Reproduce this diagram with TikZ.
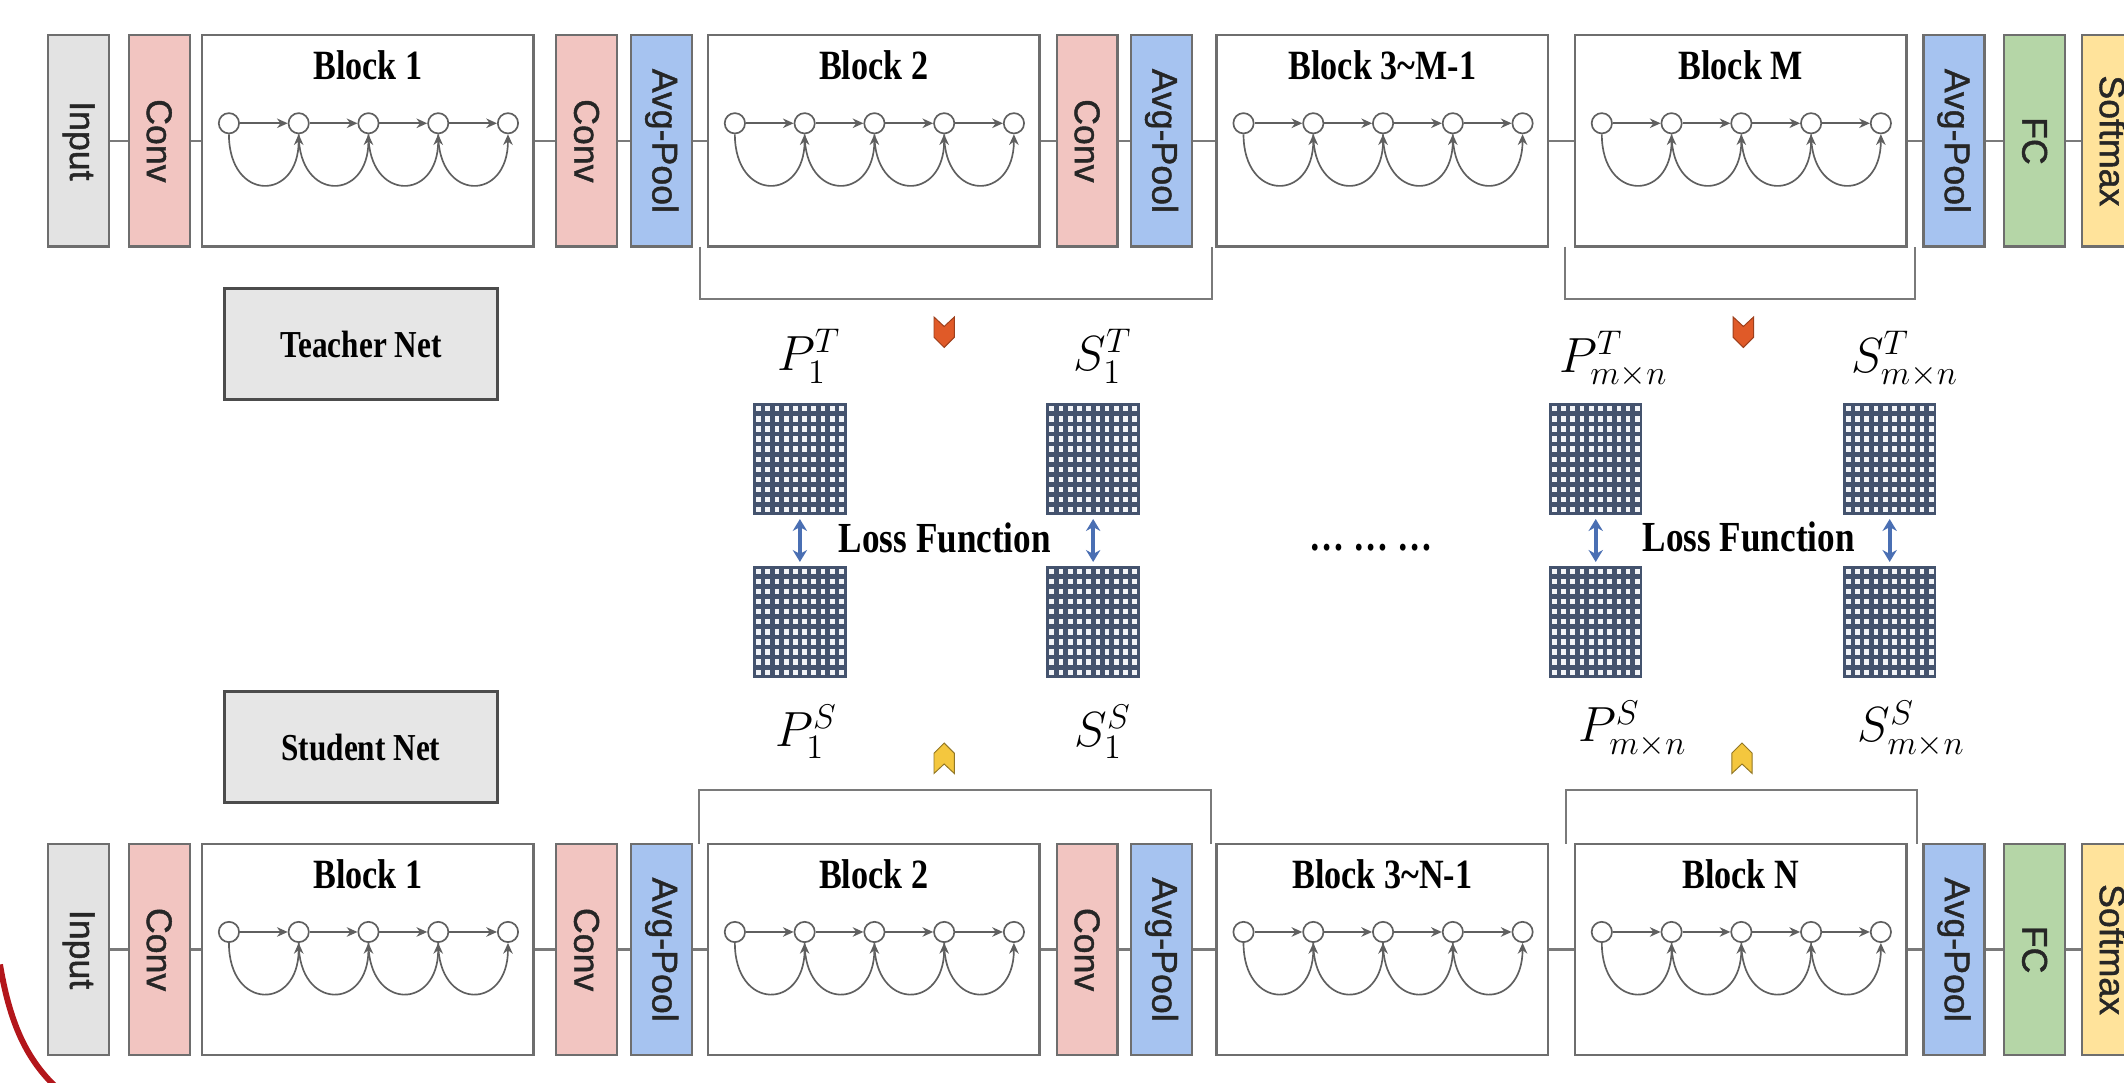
\documentclass[tikz,border=0pt]{standalone}
\usepackage[no-math]{fontspec}
\setmainfont{Liberation Serif}[FakeStretch=0.82]
\newfontfamily\layerfont{Liberation Sans}[FakeBold=1.2]
\usetikzlibrary{arrows.meta}

\definecolor{edgegray}{HTML}{6E6E6E}
\definecolor{wiregray}{HTML}{7A7A7A}
\definecolor{chaingray}{HTML}{5F5F5F}
\definecolor{inputgray}{HTML}{E3E3E3}
\definecolor{convpink}{HTML}{F2C5C1}
\definecolor{poolblue}{HTML}{A6C3F0}
\definecolor{fcgreen}{HTML}{B5D6A7}
\definecolor{softyellow}{HTML}{FFE39B}
\definecolor{gridblue}{HTML}{44536E}
\definecolor{cellwhite}{HTML}{F2F4F8}
\definecolor{lossblue}{HTML}{4A6FB3}
\definecolor{markorange}{HTML}{E05A28}
\definecolor{markyellow}{HTML}{F4C73E}
\definecolor{netgray}{HTML}{E6E6E6}
\definecolor{arcred}{HTML}{B3161B}

\begin{document}
\begin{tikzpicture}[x=0.02cm,y=0.02cm,
  layer/.style={rectangle,draw=edgegray,line width=0.9pt,minimum width=3.12cm,minimum height=0.9cm,inner sep=0pt,rotate=-90,text=black!85,font={\layerfont\fontsize{15}{18}\selectfont}},
  block/.style={rectangle,draw=edgegray,fill=white,line width=1pt,minimum width=4.9cm,minimum height=3.12cm,inner sep=0pt},
  blocklabel/.style={inner sep=0pt,font={\bfseries\fontsize{17.5}{20}\selectfont}},
  unit/.style={circle,draw=chaingray,fill=white,line width=0.7pt,minimum size=0.3cm,inner sep=0pt},
  link/.style={draw=chaingray,line width=0.7pt,-{Stealth[length=4.5pt,width=4pt]}},
  wire/.style={draw=wiregray,line width=1pt},
  bracket/.style={draw=wiregray,line width=0.9pt},
  netbox/.style={rectangle,draw=black!70,line width=1.2pt,fill=netgray,minimum width=4.02cm,minimum height=1.64cm,font={\bfseries\fontsize{16}{19}\selectfont}},
  fmap/.style={rectangle,fill=gridblue,draw=gridblue,line width=0.6pt,minimum width=1.36cm,minimum height=1.64cm,inner sep=0pt,
    path picture={
      \foreach \i in {0,...,9}
        \foreach \j in {0,...,10}
          \fill[cellwhite] ([xshift=\i*0.136cm+0.035cm,yshift=-\j*0.149cm-0.035cm]path picture bounding box.north west) rectangle ++(0.07cm,-0.08cm);
    }},
  fmlabel/.style={inner sep=0pt,font=\huge},
  lossarrow/.style={draw=lossblue,line width=1.8pt,{Stealth[length=5pt,width=6pt]}-{Stealth[length=5pt,width=6pt]},shorten <=1.5pt,shorten >=1.5pt},
  losstext/.style={inner sep=0pt,font={\bfseries\fontsize{18}{21}\selectfont}},
  markT/.style={fill=markorange,draw=markorange!70!black,line width=0.4pt},
  markS/.style={fill=markyellow,draw=markyellow!60!black,line width=0.4pt}]
\fill[white] (0,0) rectangle (1568,-799);
\useasboundingbox (0,0) rectangle (1568,-799);

% teacher row
\node[layer,fill=inputgray] (tIn) at (58,-104) {Input};
\node[layer,fill=convpink] (tC1) at (117.5,-104) {Conv};
\node[block] (tB1) at (271.5,-104) {};
\node[layer,fill=convpink] (tC2) at (433,-104) {Conv};
\node[layer,fill=poolblue] (tAP1) at (488.5,-104) {Avg-Pool};
\node[block] (tB2) at (645,-104) {};
\node[layer,fill=convpink] (tC3) at (802.5,-104) {Conv};
\node[layer,fill=poolblue] (tAP2) at (857.5,-104) {Avg-Pool};
\node[block] (tB3) at (1020.5,-104) {};
\node[block] (tBM) at (1285,-104) {};
\node[layer,fill=poolblue] (tAP3) at (1442.5,-104) {Avg-Pool};
\node[layer,fill=fcgreen] (tFC) at (1502,-104) {FC};
\node[layer,fill=softyellow] (tSM) at (1559.5,-104) {Softmax};
\node[blocklabel] (tB1-t) at ([yshift=-0.46cm]tB1.north) {Block 1};
\node[blocklabel] (tB2-t) at ([yshift=-0.46cm]tB2.north) {Block 2};
\node[blocklabel] (tB3-t) at ([yshift=-0.46cm]tB3.north) {Block 3\textasciitilde M-1};
\node[blocklabel] (tBM-t) at ([yshift=-0.46cm]tBM.north) {Block M};
\draw[wire] (tIn) -- (tC1) -- (tB1) -- (tC2) -- (tAP1) -- (tB2) -- (tC3) -- (tAP2) -- (tB3) -- (tBM) -- (tAP3) -- (tFC) -- (tSM);

% student row
\node[layer,fill=inputgray] (sIn) at (58,-701) {Input};
\node[layer,fill=convpink] (sC1) at (117.5,-701) {Conv};
\node[block] (sB1) at (271.5,-701) {};
\node[layer,fill=convpink] (sC2) at (433,-701) {Conv};
\node[layer,fill=poolblue] (sAP1) at (488.5,-701) {Avg-Pool};
\node[block] (sB2) at (645,-701) {};
\node[layer,fill=convpink] (sC3) at (802.5,-701) {Conv};
\node[layer,fill=poolblue] (sAP2) at (857.5,-701) {Avg-Pool};
\node[block] (sB3) at (1020.5,-701) {};
\node[block] (sBN) at (1285,-701) {};
\node[layer,fill=poolblue] (sAP3) at (1442.5,-701) {Avg-Pool};
\node[layer,fill=fcgreen] (sFC) at (1502,-701) {FC};
\node[layer,fill=softyellow] (sSM) at (1559.5,-701) {Softmax};
\node[blocklabel] (sB1-t) at ([yshift=-0.46cm]sB1.north) {Block 1};
\node[blocklabel] (sB2-t) at ([yshift=-0.46cm]sB2.north) {Block 2};
\node[blocklabel] (sB3-t) at ([yshift=-0.46cm]sB3.north) {Block 3\textasciitilde N-1};
\node[blocklabel] (sBN-t) at ([yshift=-0.46cm]sBN.north) {Block N};
\draw[wire] (sIn) -- (sC1) -- (sB1) -- (sC2) -- (sAP1) -- (sB2) -- (sC3) -- (sAP2) -- (sB3) -- (sBN) -- (sAP3) -- (sFC) -- (sSM);

% dense chains inside the blocks
\foreach \b in {tB1,tB2,tB3,tBM,sB1,sB2,sB3,sBN}{
  \begin{scope}[shift={(\b.center)}]
    \foreach \k in {1,...,5} \node[unit] (\b-\k) at ({-154+51.5*\k},13) {};
  \end{scope}
  \foreach \k/\n in {1/2,2/3,3/4,4/5}{
    \draw[link] (\b-\k) -- (\b-\n);
    \draw[link] (\b-\k.south) .. controls +(0,-50) and +(0,-50) .. (\b-\n.south);
  }
}

% brackets
\coordinate (brT1a) at (517,-182);
\coordinate (brT1b) at (895,-182);
\coordinate (brT2a) at (1155,-182);
\coordinate (brT2b) at (1414,-182);
\coordinate (brS1a) at (516,-623);
\coordinate (brS1b) at (894,-623);
\coordinate (brS2a) at (1156,-623);
\coordinate (brS2b) at (1415,-623);
\draw[bracket] (brT1a) -- ++(0,-39) -| (brT1b);
\draw[bracket] (brT2a) -- ++(0,-39) -| (brT2b);
\draw[bracket] (brS1a) -- ++(0,40) -| (brS1b);
\draw[bracket] (brS2a) -- ++(0,40) -| (brS2b);

% net names
\node[netbox] (tNet) at (266.5,-254) {Teacher Net};
\node[netbox] (sNet) at (266.5,-551.5) {Student Net};

% feature maps
\node[fmap] (gP1T) at (590.5,-339) {};
\node[fmap] (gS1T) at (807,-339) {};
\node[fmap] (gPnT) at (1178,-339) {};
\node[fmap] (gSnT) at (1395,-339) {};
\node[fmap] (gP1S) at (590.5,-459) {};
\node[fmap] (gS1S) at (807,-459) {};
\node[fmap] (gPnS) at (1178,-459) {};
\node[fmap] (gSnS) at (1395,-459) {};
\node[fmlabel] (lP1T) at (597,-263) {$P_1^T$};
\node[fmlabel] (lS1T) at (814,-263) {$S_1^T$};
\node[fmlabel] (lPnT) at (1191,-265) {$P_{m\times n}^T$};
\node[fmlabel] (lSnT) at (1406,-265) {$S_{m\times n}^T$};
\node[fmlabel] (lP1S) at (595,-540) {$P_1^S$};
\node[fmlabel] (lS1S) at (814,-540) {$S_1^S$};
\node[fmlabel] (lPnS) at (1205,-538) {$P_{m\times n}^S$};
\node[fmlabel] (lSnS) at (1411,-538) {$S_{m\times n}^S$};

% losses
\draw[lossarrow] (gP1T) -- (gP1S);
\draw[lossarrow] (gS1T) -- (gS1S);
\draw[lossarrow] (gPnT) -- (gPnS);
\draw[lossarrow] (gSnT) -- (gSnS);
\node[losstext] (loss1) at (697.5,-397) {Loss Function};
\node[losstext] (loss2) at (1291,-396) {Loss Function};
\node[losstext] (gap) at (1012,-404) {… … …};

% marks
\draw[markT] (689.5,-234) -- ++(7.5,-7) -- ++(7.5,7) -- ++(0,-15) -- ++(-7.5,-7.5) -- ++(-7.5,7.5) -- cycle;
\draw[markT] (1279.5,-234) -- ++(7.5,-7) -- ++(7.5,7) -- ++(0,-15) -- ++(-7.5,-7.5) -- ++(-7.5,7.5) -- cycle;
\draw[markS] (689.5,-571) -- ++(7.5,7) -- ++(7.5,-7) -- ++(0,15) -- ++(-7.5,7.5) -- ++(-7.5,-7.5) -- cycle;
\draw[markS] (1278.5,-571) -- ++(7.5,7) -- ++(7.5,-7) -- ++(0,15) -- ++(-7.5,7.5) -- ++(-7.5,-7.5) -- cycle;

% corner arc
\draw[arcred,line width=2.5pt] (0,-712) .. controls (8,-760) and (22,-785) .. (44,-805);
\end{tikzpicture}
\end{document}
